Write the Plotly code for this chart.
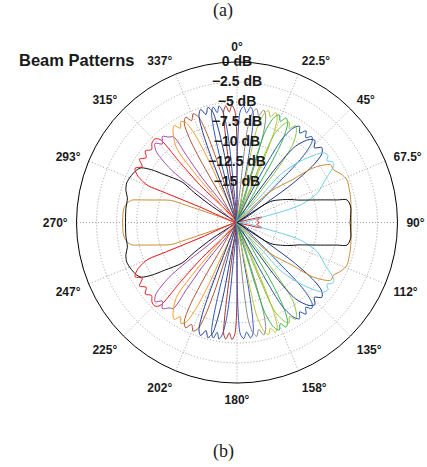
import plotly.graph_objects as go

# ---------------- data (upper half of each beam; lower half is the mirror image) ----------------
golden_l_theta = [-71.0, -71.3, -71.3, -71.4, -75.5, -77.0, -78.0, -80.0, -83.0, -86.0, -90.0]
golden_l_db = [-20.0, -15.1, -12.5, -11.4, -8.8, -7.5, -6.6, -6.1, -5.8, -5.75, -5.75]

black_l_theta = [-57.0, -57.1, -55.0, -53.6, -56.6, -58.3, -60.3, -62.3, -66.0, -70.3, -74.0, -77.3, -83.0, -90.0]
black_l_db = [-20.0, -16.4, -13.5, -11.5, -9.2, -7.5, -6.25, -5.9, -5.6, -5.4, -5.6, -6.0, -6.05, -6.1]

red_theta = [-67.3, -67.3, -67.5, -67.5, -65.0, -62.0, -59.5, -57.0, -54.5, -52.0, -49.5, -47.0, -44.5, -42.8, -43.5, -44.6, -45.0]
red_db = [-20.0, -15.0, -10.0, -8.0, -6.4, -5.6, -6.3, -5.5, -6.1, -5.5, -6.0, -5.5, -5.4, -5.9, -9.5, -13.4, -20.0]

red_side_theta = [72.0, 78.0, 84.0, 90.0]
red_side_db = [-20.0, -16.8, -17.5, -17.2]

purple_theta = [-51.5, -51.8, -51.8, -51.0, -48.5, -46.0, -43.5, -41.0, -38.5, -36.5, -37.0, -38.0, -38.5]
purple_db = [-20.0, -15.0, -11.4, -9.0, -6.5, -5.8, -6.5, -5.8, -6.4, -6.7, -9.5, -13.0, -20.0]

orange_theta = [-41.0, -41.0, -40.5, -39.0, -35.0, -33.0, -31.0, -29.0, -27.0, -25.5, -24.5, -24.5, -24.5]
orange_db = [-20.0, -15.0, -11.5, -8.0, -6.1, -5.6, -6.3, -5.6, -6.1, -8.0, -11.5, -15.0, -20.0]

sienna_theta = [-31.0, -31.0, -30.5, -29.5, -28.0, -26.0, -24.0, -22.0, -20.0, -18.8, -18.0, -18.0, -18.0]
sienna_db = [-20.0, -15.0, -11.5, -8.0, -6.0, -5.4, -6.1, -5.4, -6.0, -8.0, -11.5, -15.0, -20.0]

navy_theta = [-22.0, -22.0, -21.6, -20.8, -19.5, -17.8, -16.0, -14.2, -12.5, -11.3, -10.5, -10.5, -10.5]
navy_db = [-20.0, -15.0, -11.5, -8.0, -5.8, -5.2, -6.0, -5.2, -5.8, -8.0, -11.5, -15.0, -20.0]

blue_theta = [-15.0, -15.0, -14.7, -14.0, -13.0, -11.6, -10.2, -8.8, -7.5, -6.2, -5.5, -5.5, -5.5]
blue_db = [-20.0, -15.0, -11.5, -8.0, -5.9, -5.3, -6.1, -5.3, -5.9, -8.0, -11.5, -15.0, -20.0]

darkred_theta = [-8.0, -8.0, -7.8, -7.4, -6.8, -5.5, -4.0, -2.5, -1.2, -0.4, 0.0, 0.0, 0.0]
darkred_db = [-20.0, -15.0, -11.5, -8.0, -6.0, -5.4, -6.2, -5.4, -6.0, -8.0, -11.5, -15.0, -20.0]

blue2_theta = [0.0, 0.0, 0.3, 0.9, 1.7, 3.3, 5.0, 6.7, 8.3, 9.3, 10.0, 10.0, 10.0]
blue2_db = [-20.0, -15.0, -11.5, -8.0, -6.1, -5.5, -6.3, -5.5, -6.1, -8.0, -11.5, -15.0, -20.0]

gray_theta = [5.5, 5.5, 5.8, 6.5, 8.0, 9.8, 11.5, 13.3, 15.0, 16.3, 17.0, 17.0, 17.0]
gray_db = [-20.0, -15.0, -11.5, -8.0, -6.2, -5.6, -6.4, -5.6, -6.2, -8.0, -11.5, -15.0, -20.0]

yellow_theta = [11.0, 11.0, 11.3, 12.0, 14.0, 15.8, 17.5, 19.3, 21.0, 22.3, 23.0, 23.0, 23.0]
yellow_db = [-20.0, -15.0, -11.5, -8.0, -6.0, -5.5, -6.2, -5.5, -6.0, -8.0, -11.5, -15.0, -20.0]

green_theta = [16.0, 16.0, 16.4, 17.3, 19.5, 21.4, 23.2, 25.1, 27.0, 28.8, 30.0, 30.0, 30.0]
green_db = [-20.0, -15.0, -11.5, -8.0, -6.1, -5.6, -6.3, -5.6, -6.1, -8.0, -11.5, -15.0, -20.0]

lightgreen_theta = [21.5, 21.5, 22.0, 23.0, 25.5, 27.4, 29.2, 31.1, 33.0, 35.5, 37.0, 37.0, 37.0]
lightgreen_db = [-20.0, -15.0, -11.5, -8.0, -6.4, -5.9, -6.6, -5.9, -6.4, -8.0, -11.5, -15.0, -20.0]

darkblue_theta = [25.0, 25.5, 27.0, 28.5, 31.0, 33.0, 35.0, 37.0, 39.0, 41.0, 43.0, 45.0, 46.0, 46.0]
darkblue_db = [-20.0, -15.0, -11.3, -8.0, -6.2, -5.7, -6.4, -5.7, -6.4, -5.8, -6.3, -8.5, -12.0, -20.0]

darkblue2_theta = [34.0, 34.5, 35.5, 37.5, 41.0, 43.5, 46.0, 48.5, 51.0, 53.0, 55.0, 56.0, 56.0]
darkblue2_db = [-20.0, -15.0, -11.5, -8.0, -6.3, -5.9, -6.6, -5.9, -6.4, -8.0, -11.5, -15.0, -20.0]

cyan_theta = [41.5, 42.0, 42.2, 44.5, 46.6, 49.0, 51.0, 53.5, 55.5, 57.5, 59.5, 64.2, 69.8, 74.5, 77.2, 79.0]
cyan_db = [-20.0, -15.5, -12.0, -10.0, -8.6, -7.2, -6.2, -5.9, -6.4, -5.9, -6.0, -7.8, -9.3, -11.8, -15.8, -20.0]

golden_r_theta = [40.0, 47.0, 52.3, 54.4, 58.3, 61.3, 65.0, 68.9, 73.0, 77.3, 83.7, 90.0]
golden_r_db = [-20.0, -14.4, -11.3, -8.3, -6.3, -6.3, -5.7, -5.3, -5.4, -5.5, -5.7, -5.75]

black_r_theta = [50.0, 57.8, 62.4, 66.5, 69.8, 74.8, 77.3, 78.4, 82.2, 86.0, 90.0]
black_r_db = [-20.0, -15.1, -13.9, -12.8, -11.9, -9.25, -7.2, -6.0, -5.7, -5.8, -5.9]

beam_colors = {
    "golden": "#C98A34", "black": "#111111", "red": "#EC1C24", "purple": "#A24BA8",
    "orange": "#F39A2E", "sienna": "#B0553A", "navy": "#243C8A", "blue": "#2D55B5",
    "darkred": "#A8322D", "blue2": "#3358C4", "gray": "#8A8A8A", "yellow": "#C2C42C",
    "green": "#3BB34A", "lightgreen": "#8DC641", "darkblue": "#2C5AA8",
    "darkblue2": "#1D3C8C", "cyan": "#6DCDE3",
}

radial_ticks = [0, -2.5, -5, -7.5, -10, -12.5, -15]
radial_labels = ["0 dB", "\u22122.5 dB", "\u22125 dB", "\u22127.5 dB", "\u221210 dB", "\u221212.5 dB", "\u221215 dB"]
grid_rings = [-17.5, -15, -12.5, -10, -7.5, -5, -2.5]
angle_ticks = [0, 22.5, 45, 67.5, 90, 112.5, 135, 157.5, 180, 202.5, 225, 247.5, 270, 292.5, 315, 337.5]
angle_labels = ["0\u00b0", "22.5\u00b0", "45\u00b0", "67.5\u00b0", "90\u00b0", "112\u00b0", "135\u00b0", "158\u00b0",
                "180\u00b0", "202\u00b0", "225\u00b0", "247\u00b0", "270\u00b0", "293\u00b0", "315\u00b0", "337\u00b0"]

beams = [
    (golden_l_theta, golden_l_db, "golden"),
    (black_l_theta, black_l_db, "black"),
    (red_theta, red_db, "red"),
    (red_side_theta, red_side_db, "red"),
    (purple_theta, purple_db, "purple"),
    (orange_theta, orange_db, "orange"),
    (sienna_theta, sienna_db, "sienna"),
    (navy_theta, navy_db, "navy"),
    (blue_theta, blue_db, "blue"),
    (darkred_theta, darkred_db, "darkred"),
    (blue2_theta, blue2_db, "blue2"),
    (gray_theta, gray_db, "gray"),
    (yellow_theta, yellow_db, "yellow"),
    (green_theta, green_db, "green"),
    (lightgreen_theta, lightgreen_db, "lightgreen"),
    (darkblue_theta, darkblue_db, "darkblue"),
    (darkblue2_theta, darkblue2_db, "darkblue2"),
    (cyan_theta, cyan_db, "cyan"),
    (golden_r_theta, golden_r_db, "golden"),
    (black_r_theta, black_r_db, "black"),
]

fig = go.Figure()
for th, db, cname in beams:
    mirror = [180 - t for t in th]
    fig.add_trace(go.Scatterpolar(
        theta=th + [None] + mirror,
        r=db + [None] + db,
        mode="lines",
        line=dict(color=beam_colors[cname], width=1, shape="spline", smoothing=0.8),
        hoverinfo="skip",
        showlegend=False,
    ))

fig.add_trace(go.Scatterpolar(
    theta=[0] * len(radial_ticks),
    r=radial_ticks,
    mode="text",
    text=radial_labels,
    textposition="middle center",
    textfont=dict(family="Liberation Sans", size=14, color="#1a1a1a", weight="bold"),
    cliponaxis=False,
    hoverinfo="skip",
    showlegend=False,
))

fig.update_layout(
    width=427, height=467,
    margin=dict(l=0, r=0, t=0, b=0),
    paper_bgcolor="white",
    showlegend=False,
    polar=dict(
        domain=dict(x=[76.5 / 427, 397.5 / 427], y=[84 / 467, 405 / 467]),
        bgcolor="white",
        angularaxis=dict(
            rotation=90, direction="clockwise",
            tickmode="array", tickvals=angle_ticks, ticktext=angle_labels,
            tickfont=dict(family="Liberation Sans", size=12, color="#1a1a1a", weight="bold"),
            ticks="outside", ticklen=6, tickcolor="rgba(0,0,0,0)",
            showline=True, linecolor="black", linewidth=1,
            showgrid=True, gridcolor="#a0a0a0", griddash="1px,2px", gridwidth=1,
        ),
        radialaxis=dict(
            range=[-20, 0],
            tickmode="array", tickvals=grid_rings,
            showticklabels=False, ticks="",
            showline=False,
            showgrid=True, gridcolor="#a0a0a0", griddash="1px,2px", gridwidth=1,
        ),
    ),
    annotations=[
        dict(text="<b>Beam Patterns</b>", x=17 / 427, y=(467 - 60) / 467, xref="paper", yref="paper",
             xanchor="left", yanchor="middle", showarrow=False,
             font=dict(family="Liberation Sans", size=16.5, color="#1a1a1a")),
        dict(text="(a)", x=223 / 427, y=(467 - 11) / 467, xref="paper", yref="paper",
             xanchor="center", yanchor="middle", showarrow=False,
             font=dict(family="Liberation Serif", size=18, color="#1a1a1a")),
        dict(text="(b)", x=223 / 427, y=(467 - 451) / 467, xref="paper", yref="paper",
             xanchor="center", yanchor="middle", showarrow=False,
             font=dict(family="Liberation Serif", size=18, color="#1a1a1a")),
    ],
)

fig.write_html("out.html", config={"displayModeBar": False},
               post_script="document.body.style.margin='0px';")
